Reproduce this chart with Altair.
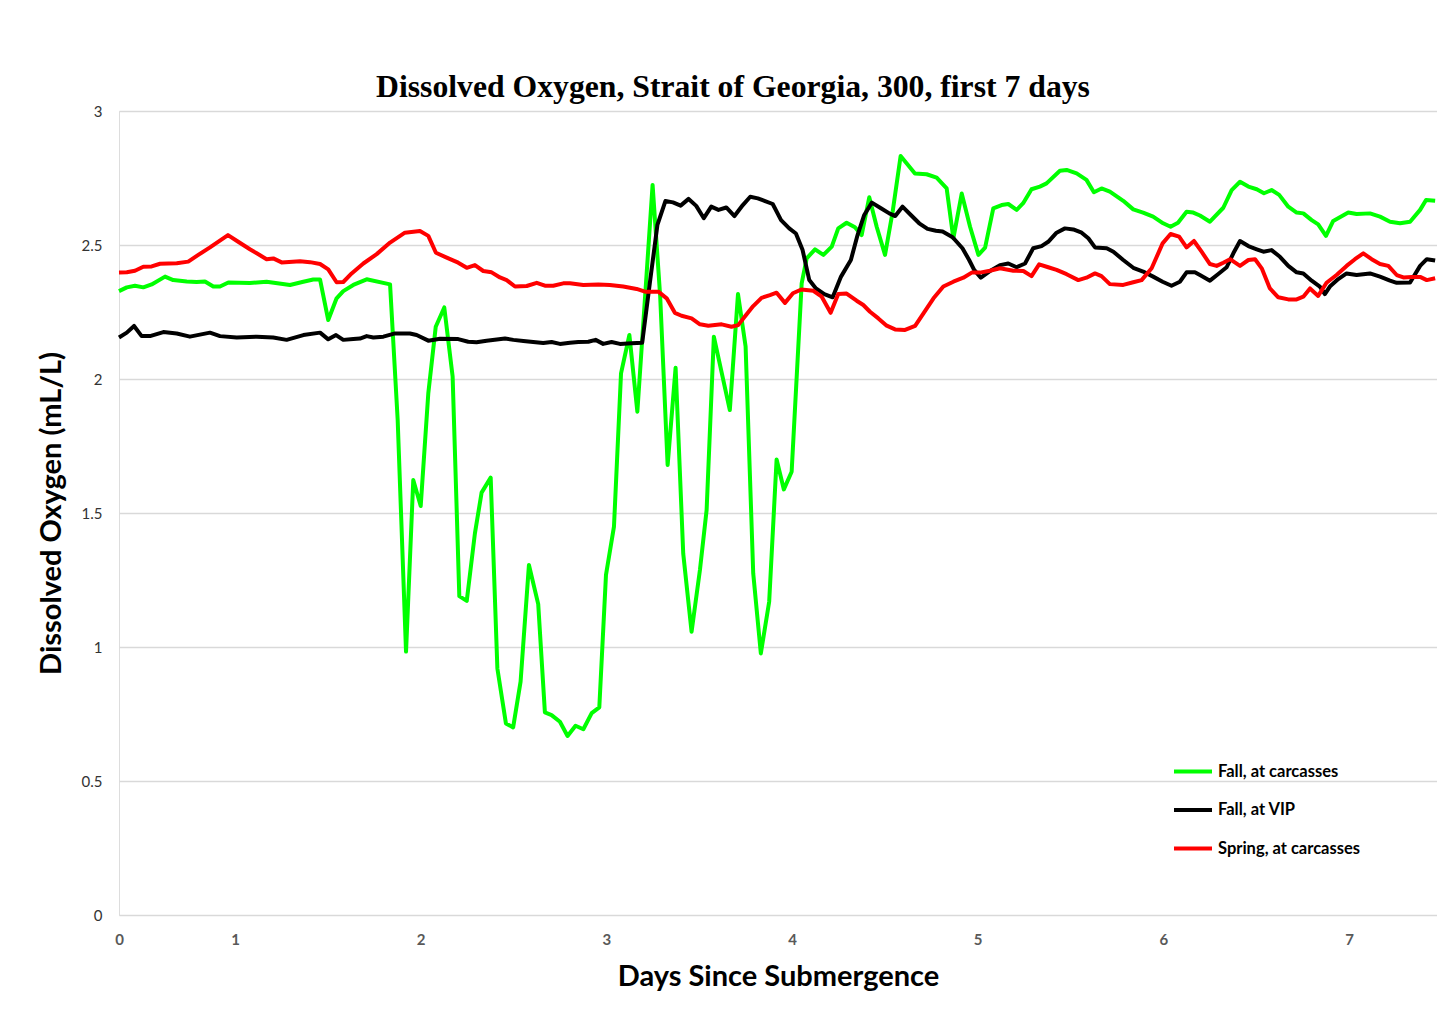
import altair as alt
import pandas as pd

series_names = ["Fall, at carcasses", "Fall, at VIP", "Spring, at carcasses"]
series_colors = ["#00ff00", "#000000", "#ff0000"]

green_day = [0.375, 0.417, 0.461, 0.506, 0.551, 0.623, 0.667, 0.740, 0.793, 0.838, 0.883, 0.919, 0.964,
             1.080, 1.170, 1.296, 1.368, 1.421, 1.458, 1.502, 1.547, 1.583, 1.637, 1.709, 1.835, 1.876,
             1.921, 1.960, 2.000, 2.041, 2.081, 2.127, 2.172, 2.208, 2.248, 2.292, 2.328, 2.377, 2.413,
             2.459, 2.498, 2.538, 2.583, 2.633, 2.669, 2.705, 2.750, 2.791, 2.834, 2.876, 2.921, 2.962,
             2.998, 3.041, 3.079, 3.124, 3.167, 3.249, 3.290, 3.330, 3.373, 3.414, 3.459, 3.504, 3.540,
             3.579, 3.665, 3.709, 3.750, 3.791, 3.832, 3.877, 3.917, 3.956, 3.998, 4.052, 4.079, 4.124,
             4.169, 4.214, 4.249, 4.294, 4.339, 4.375, 4.416, 4.456, 4.501, 4.542, 4.585, 4.662, 4.725,
             4.779, 4.833, 4.869, 4.914, 4.959, 5.004, 5.040, 5.084, 5.129, 5.165, 5.210, 5.245, 5.290,
             5.335, 5.371, 5.443, 5.479, 5.533, 5.586, 5.626, 5.667, 5.712, 5.784, 5.838, 5.891, 5.945,
             5.999, 6.039, 6.079, 6.125, 6.161, 6.197, 6.251, 6.323, 6.368, 6.413, 6.458, 6.503, 6.542,
             6.583, 6.624, 6.673, 6.718, 6.754, 6.799, 6.834, 6.876, 6.915, 6.996, 7.041, 7.113, 7.167,
             7.221, 7.275, 7.329, 7.383, 7.415, 7.464]
green_do = [2.328, 2.342, 2.348, 2.342, 2.353, 2.382, 2.369, 2.364, 2.362, 2.364, 2.345, 2.345, 2.360,
            2.358, 2.363, 2.351, 2.363, 2.371, 2.371, 2.220, 2.301, 2.328, 2.351, 2.372, 2.353, 1.847,
            0.983, 1.623, 1.526, 1.947, 2.195, 2.267, 2.009, 1.190, 1.172, 1.424, 1.576, 1.632, 0.920,
            0.715, 0.700, 0.871, 1.306, 1.160, 0.756, 0.746, 0.721, 0.668, 0.706, 0.693, 0.753, 0.775,
            1.269, 1.449, 2.021, 2.164, 1.878, 2.724, 2.307, 1.679, 2.042, 1.349, 1.057, 1.287, 1.511,
            2.158, 1.884, 2.317, 2.121, 1.275, 0.976, 1.169, 1.700, 1.588, 1.654, 2.357, 2.450, 2.484,
            2.463, 2.494, 2.562, 2.583, 2.566, 2.537, 2.678, 2.568, 2.463, 2.624, 2.832, 2.767, 2.764,
            2.751, 2.711, 2.525, 2.692, 2.568, 2.463, 2.490, 2.637, 2.649, 2.653, 2.631, 2.656, 2.708,
            2.718, 2.730, 2.777, 2.780, 2.767, 2.743, 2.697, 2.711, 2.699, 2.665, 2.633, 2.621, 2.606,
            2.581, 2.568, 2.583, 2.624, 2.621, 2.610, 2.587, 2.639, 2.705, 2.736, 2.718, 2.708, 2.693,
            2.705, 2.687, 2.643, 2.621, 2.618, 2.593, 2.577, 2.534, 2.590, 2.621, 2.616, 2.618, 2.606,
            2.587, 2.581, 2.587, 2.631, 2.668, 2.665]

black_day = [0.375, 0.417, 0.456, 0.497, 0.542, 0.614, 0.686, 0.757, 0.865, 0.919, 1.009, 1.117, 1.206,
             1.278, 1.368, 1.458, 1.502, 1.544, 1.583, 1.637, 1.673, 1.709, 1.745, 1.799, 1.862, 1.942,
             1.978, 2.041, 2.104, 2.202, 2.256, 2.301, 2.355, 2.454, 2.499, 2.553, 2.606, 2.660, 2.705,
             2.750, 2.804, 2.849, 2.903, 2.942, 2.983, 3.028, 3.073, 3.136, 3.193, 3.234, 3.275, 3.318,
             3.359, 3.400, 3.443, 3.484, 3.525, 3.565, 3.604, 3.646, 3.690, 3.735, 3.775, 3.816, 3.855,
             3.896, 3.941, 3.985, 4.021, 4.057, 4.093, 4.129, 4.174, 4.219, 4.264, 4.317, 4.353, 4.389,
             4.430, 4.479, 4.524, 4.556, 4.595, 4.640, 4.685, 4.730, 4.775, 4.811, 4.865, 4.918, 4.954,
             4.981, 5.017, 5.062, 5.120, 5.165, 5.210, 5.255, 5.299, 5.344, 5.380, 5.425, 5.470, 5.515,
             5.560, 5.596, 5.632, 5.695, 5.731, 5.784, 5.838, 5.891, 5.945, 5.996, 6.044, 6.089, 6.125,
             6.170, 6.197, 6.251, 6.296, 6.341, 6.377, 6.413, 6.458, 6.503, 6.539, 6.583, 6.628, 6.673,
             6.718, 6.754, 6.799, 6.843, 6.870, 6.897, 6.942, 6.987, 7.041, 7.113, 7.167, 7.221, 7.257,
             7.329, 7.383, 7.419, 7.464]
black_do = [2.155, 2.173, 2.198, 2.160, 2.160, 2.175, 2.170, 2.158, 2.173, 2.160, 2.155, 2.158, 2.155,
            2.146, 2.164, 2.173, 2.148, 2.164, 2.146, 2.149, 2.151, 2.160, 2.155, 2.158, 2.170, 2.170,
            2.164, 2.143, 2.150, 2.149, 2.139, 2.137, 2.143, 2.151, 2.146, 2.142, 2.138, 2.134, 2.138,
            2.131, 2.135, 2.138, 2.139, 2.146, 2.131, 2.138, 2.131, 2.133, 2.135, 2.357, 2.575, 2.664,
            2.659, 2.647, 2.672, 2.646, 2.600, 2.643, 2.631, 2.640, 2.608, 2.649, 2.680, 2.674, 2.664,
            2.653, 2.593, 2.562, 2.543, 2.481, 2.369, 2.338, 2.317, 2.305, 2.382, 2.444, 2.537, 2.612,
            2.658, 2.637, 2.618, 2.608, 2.643, 2.612, 2.581, 2.560, 2.553, 2.550, 2.529, 2.488, 2.444,
            2.407, 2.378, 2.401, 2.425, 2.431, 2.417, 2.431, 2.488, 2.496, 2.512, 2.546, 2.562, 2.558,
            2.546, 2.525, 2.491, 2.488, 2.475, 2.444, 2.415, 2.401, 2.382, 2.363, 2.348, 2.363, 2.398,
            2.398, 2.388, 2.367, 2.392, 2.417, 2.469, 2.515, 2.496, 2.484, 2.475, 2.481, 2.456, 2.422,
            2.398, 2.394, 2.367, 2.345, 2.317, 2.345, 2.373, 2.394, 2.388, 2.394, 2.382, 2.367, 2.359,
            2.360, 2.422, 2.447, 2.442]

red_day = [0.375, 0.417, 0.461, 0.506, 0.551, 0.596, 0.686, 0.748, 0.802, 0.865, 0.962, 1.017, 1.080,
           1.117, 1.170, 1.206, 1.251, 1.350, 1.404, 1.458, 1.502, 1.547, 1.583, 1.628, 1.691, 1.763,
           1.835, 1.915, 1.996, 2.041, 2.082, 2.140, 2.202, 2.248, 2.292, 2.337, 2.382, 2.427, 2.463,
           2.508, 2.571, 2.625, 2.669, 2.714, 2.768, 2.804, 2.876, 2.957, 3.019, 3.091, 3.163, 3.208,
           3.280, 3.325, 3.369, 3.405, 3.459, 3.504, 3.549, 3.621, 3.674, 3.710, 3.746, 3.791, 3.836,
           3.881, 3.917, 3.962, 4.005, 4.050, 4.115, 4.160, 4.208, 4.249, 4.294, 4.348, 4.384, 4.420,
           4.465, 4.510, 4.555, 4.609, 4.663, 4.708, 4.762, 4.815, 4.869, 4.923, 4.968, 5.012, 5.066,
           5.120, 5.192, 5.246, 5.290, 5.331, 5.380, 5.425, 5.479, 5.542, 5.586, 5.632, 5.667, 5.712,
           5.784, 5.838, 5.883, 5.937, 5.996, 6.039, 6.085, 6.125, 6.165, 6.206, 6.251, 6.287, 6.323,
           6.359, 6.413, 6.458, 6.494, 6.530, 6.574, 6.619, 6.673, 6.718, 6.754, 6.790, 6.834, 6.879,
           6.933, 6.987, 7.032, 7.077, 7.122, 7.167, 7.212, 7.257, 7.293, 7.338, 7.383, 7.419, 7.464]
red_do = [2.397, 2.398, 2.404, 2.419, 2.420, 2.430, 2.432, 2.438, 2.463, 2.491, 2.537, 2.512, 2.484,
          2.469, 2.447, 2.450, 2.435, 2.439, 2.436, 2.429, 2.409, 2.361, 2.362, 2.394, 2.431, 2.466,
          2.509, 2.546, 2.552, 2.534, 2.471, 2.453, 2.434, 2.415, 2.425, 2.403, 2.398, 2.379, 2.369,
          2.345, 2.347, 2.359, 2.348, 2.348, 2.357, 2.357, 2.351, 2.353, 2.351, 2.345, 2.336, 2.326,
          2.326, 2.301, 2.247, 2.236, 2.226, 2.204, 2.199, 2.204, 2.195, 2.201, 2.233, 2.272, 2.303,
          2.313, 2.322, 2.284, 2.320, 2.334, 2.329, 2.307, 2.247, 2.317, 2.319, 2.292, 2.276, 2.251,
          2.226, 2.199, 2.185, 2.183, 2.198, 2.245, 2.301, 2.345, 2.363, 2.378, 2.397, 2.397, 2.404,
          2.413, 2.404, 2.403, 2.384, 2.428, 2.417, 2.407, 2.391, 2.369, 2.378, 2.394, 2.384, 2.354,
          2.351, 2.361, 2.369, 2.413, 2.506, 2.541, 2.531, 2.491, 2.515, 2.475, 2.429, 2.422, 2.434,
          2.447, 2.422, 2.444, 2.447, 2.413, 2.338, 2.305, 2.297, 2.297, 2.307, 2.338, 2.310, 2.359,
          2.388, 2.422, 2.447, 2.469, 2.447, 2.429, 2.422, 2.388, 2.379, 2.381, 2.381, 2.369, 2.376]

x_tick_values = [0.375, 1, 2, 3, 4, 5, 6, 7]
y_tick_values = [0, 0.5, 1, 1.5, 2, 2.5, 3]

frames = []
for name, d, v in zip(series_names, [green_day, black_day, red_day], [green_do, black_do, red_do]):
    frames.append(pd.DataFrame({"series": name, "day": d, "do": v}))
df = pd.concat(frames, ignore_index=True)

tick_font = "Lato"

chart = alt.Chart(df).mark_line(strokeWidth=4, strokeJoin="round").encode(
    x=alt.X("day:Q",
            scale=alt.Scale(domain=[0.375, 7.474], nice=False, zero=False),
            axis=alt.Axis(title="Days Since Submergence", values=x_tick_values,
                          labelExpr="datum.value < 0.5 ? '0' : format(datum.value, 'd')",
                          grid=False, domain=False, ticks=False, labelPadding=17, labelFlush=False,
                          labelFont=tick_font, labelFontSize=15, labelFontWeight="bold",
                          labelColor="#595959", titleFont=tick_font, titleFontSize=29,
                          titleFontWeight="bold", titleColor="#000000", titlePadding=15)),
    y=alt.Y("do:Q",
            scale=alt.Scale(domain=[0, 3], nice=False),
            axis=alt.Axis(title="Dissolved Oxygen (mL/L)", values=y_tick_values, format=".1~f",
                          grid=True, gridColor="#d9d9d9", gridWidth=1.3, domain=False, ticks=False,
                          labelPadding=17, labelFont=tick_font, labelFontSize=15, labelFlush=False,
                          labelColor="#333333", titleFont=tick_font, titleFontSize=29,
                          titleFontWeight="bold", titleColor="#000000", titlePadding=15)),
    color=alt.Color("series:N",
                    scale=alt.Scale(domain=series_names, range=series_colors),
                    sort=series_names,
                    legend=alt.Legend(title=None, orient="none", legendX=1053, legendY=639.5,
                                      symbolType="stroke", symbolStrokeWidth=4, symbolSize=1444,
                                      labelFont=tick_font, labelFontSize=16.5, labelFontWeight="bold",
                                      labelColor="#000000", labelOffset=4, labelLimit=400,
                                      rowPadding=8.5)),
    detail="series:N",
).properties(
    width=1318,
    height=804,
    title=alt.TitleParams("Dissolved Oxygen, Strait of Georgia, 300, first 7 days",
                          font="Liberation Serif", fontSize=31.7, fontWeight="bold",
                          color="#000000", anchor="middle", frame="group", dx=-45, offset=0),
    padding={"left": 111, "top": 103, "right": 0, "bottom": 80},
    autosize=alt.AutoSizeParams(type="none"),
).configure_view(
    strokeWidth=0, stroke="transparent", strokeOpacity=0
).configure_axis(
    domain=False, domainColor="transparent", domainOpacity=0
).configure_axisX(
    grid=False
).configure(background="#ffffff")

chart.save("out.html", embed_options={"renderer": "svg", "actions": False})
